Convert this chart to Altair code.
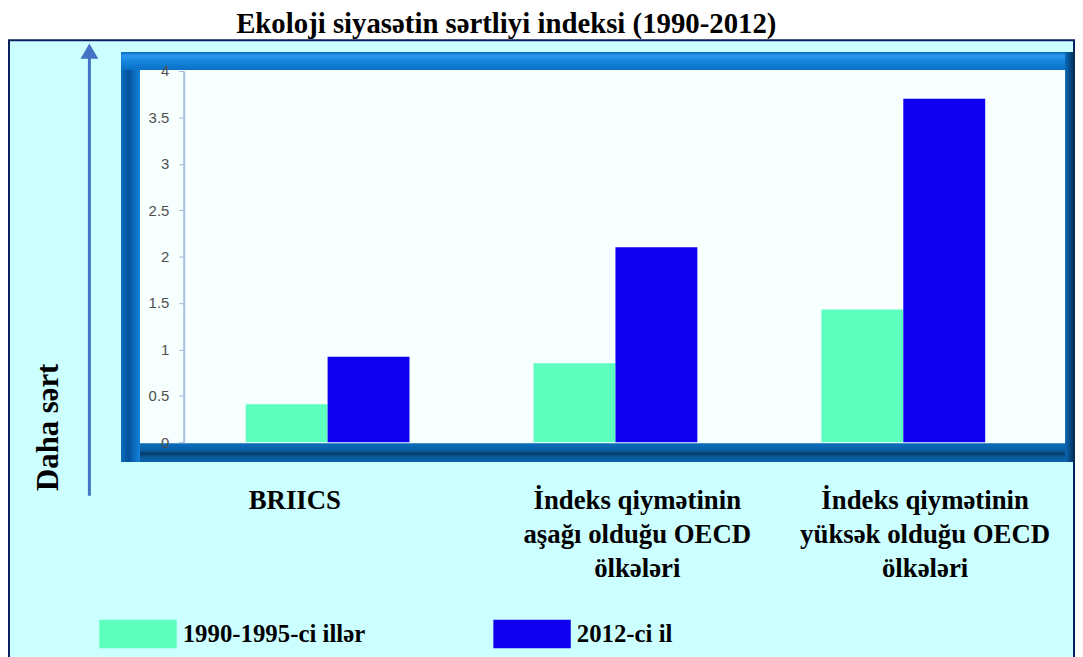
import altair as alt
import pandas as pd

# ---------------- data ----------------
categories = [
    "BRIICS",
    "İndeks qiymətinin\naşağı olduğu OECD\nölkələri",
    "İndeks qiymətinin\nyüksək olduğu OECD\nölkələri",
]
series = ["1990-1995-ci illər", "2012-ci il"]
values_1990_1995 = [0.41, 0.85, 1.43]
values_2012 = [0.92, 2.10, 3.70]
y_ticks = [0, 0.5, 1, 1.5, 2, 2.5, 3, 3.5, 4]
bar_colors = ["#5CFFBE", "#1000F0"]

rows = []
for c, v1, v2 in zip(categories, values_1990_1995, values_2012):
    rows.append({"cat": c, "series": series[0], "value": v1})
    rows.append({"cat": c, "series": series[1], "value": v2})
df = pd.DataFrame(rows)

# ---------------- layout helpers ----------------
W, H = 870, 374
OX, OY = 185, 69  # page position of the plot origin


def px(x):
    return x - OX


def py(y):
    return y - OY


base = alt.Chart(pd.DataFrame({"k": [0]}))


def grad(stops, vertical=True):
    return alt.Gradient(
        gradient="linear",
        stops=[alt.GradientStop(offset=o, color=c) for o, c in stops],
        x1=0, y1=0, x2=0 if vertical else 1, y2=1 if vertical else 0,
    )


def box(x1, y1, x2, y2, fill, stroke=None, sw=0):
    kw = dict(fill=fill)
    if stroke:
        kw.update(stroke=stroke, strokeWidth=sw)
    return base.mark_rect(**kw).encode(
        x=alt.value(px(x1)), x2=alt.value(px(x2)),
        y=alt.value(py(y1)), y2=alt.value(py(y2)),
    )


serif = "Liberation Serif"

decor = [
    box(9, 38, 1082, 668, "#CCFFFF", "#0A1F5E", 2),
    # bevelled blue frame
    box(122, 50, 1083, 463, "#0A6CC0"),
    box(122, 444, 1083, 463, grad([(0, "#0B6DBA"), (0.4, "#0A5EA4"),
                                   (0.55, "#073C6A"), (0.75, "#0A5A9E"),
                                   (1, "#0A62AA")])),
    box(1073, 50, 1083, 463, grad([(0, "#0A68B6"), (0.5, "#074A85"),
                                   (1, "#04284A")], vertical=False)),
    box(122, 50, 141, 463, grad([(0, "#0A6CC0"), (0.4, "#05509A"),
                                 (0.6, "#0862B4"), (1, "#1583DA")], vertical=False)),
    box(122, 50, 1073, 68, grad([(0, "#0A6CC0"), (0.2, "#2A9AEE"),
                                 (0.5, "#1684DC"), (1, "#0A70C6")])),
    box(141, 68, 1073, 444, "#F7FFFF"),
    # arrow
    base.mark_rule(color="#4472C4", strokeWidth=3).encode(
        x=alt.value(px(90)), y=alt.value(py(54)), y2=alt.value(py(497))
    ),
    base.mark_point(shape="triangle-up", filled=True, size=320,
                    color="#4472C4", opacity=1).encode(
        x=alt.value(px(90)), y=alt.value(py(49))
    ),
    base.mark_text(text="Daha sərt", angle=270, font=serif, fontWeight="bold",
                   fontSize=31, align="center", baseline="middle",
                   color="black").encode(
        x=alt.value(px(49)), y=alt.value(py(428))
    ),
]

bars = alt.Chart(df).mark_bar().encode(
    x=alt.X(
        "cat:N", sort=categories,
        scale=alt.Scale(paddingInner=0.431, paddingOuter=0.2155),
        axis=alt.Axis(
            title=None, domain=False, ticks=False, tickSize=0, labelAngle=0,
            labelFont=serif, labelFontWeight="bold", labelFontSize=27,
            labelColor="black", labelLineHeight=34, labelBaseline="top",
            labelPadding=46, labelLimit=500, labelOverlap=False,
            labelExpr="split(datum.label, '\\n')",
            labelOffset={"condition": {"test": "datum.value == 'BRIICS'", "value": -33},
                         "value": 22},
            zindex=1,
        ),
    ),
    xOffset=alt.XOffset("series:N", sort=series,
                        scale=alt.Scale(paddingInner=0, paddingOuter=0)),
    y=alt.Y(
        "value:Q",
        scale=alt.Scale(domain=[0, 4], nice=False),
        axis=alt.Axis(
            title=None, values=y_ticks, format="~g", grid=False,
            labelFont="Liberation Sans", labelFontSize=15, labelColor="#505050",
            tickColor="#9FB4D6", tickSize=5, domainColor="#A9BEDD", domainWidth=2,
            labelPadding=10, zindex=1,
        ),
    ),
    color=alt.Color(
        "series:N", sort=series,
        scale=alt.Scale(domain=series, range=bar_colors),
        legend=alt.Legend(
            title=None, orient="none", legendX=px(100), legendY=py(636) - 39,
            direction="horizontal", symbolType="M-1,-0.37H1V0.37H-1Z",
            symbolSize=6084, symbolStrokeWidth=0, symbolOpacity=1,
            labelFont=serif, labelFontWeight="bold", labelFontSize=25,
            labelColor="black", labelOffset=6, columnPadding=129, padding=0,
            labelLimit=500,
        ),
    ),
)

chart = alt.layer(*decor, bars).properties(
    width=W,
    height=H,
    autosize=alt.AutoSizeParams(type="none"),
    padding={"left": 177, "top": 61, "right": 28, "bottom": 214},
    background="white",
    title=alt.TitleParams(
        text="Ekoloji siyasətin sərtliyi indeksi (1990-2012)",
        font=serif, fontSize=29, fontWeight="bold", color="black",
        anchor="middle", frame="group", dx=-110, dy=1, offset=1,
    ),
).configure_view(stroke=None)

chart.save("out.html", embed_options={"renderer": "svg", "actions": False})
